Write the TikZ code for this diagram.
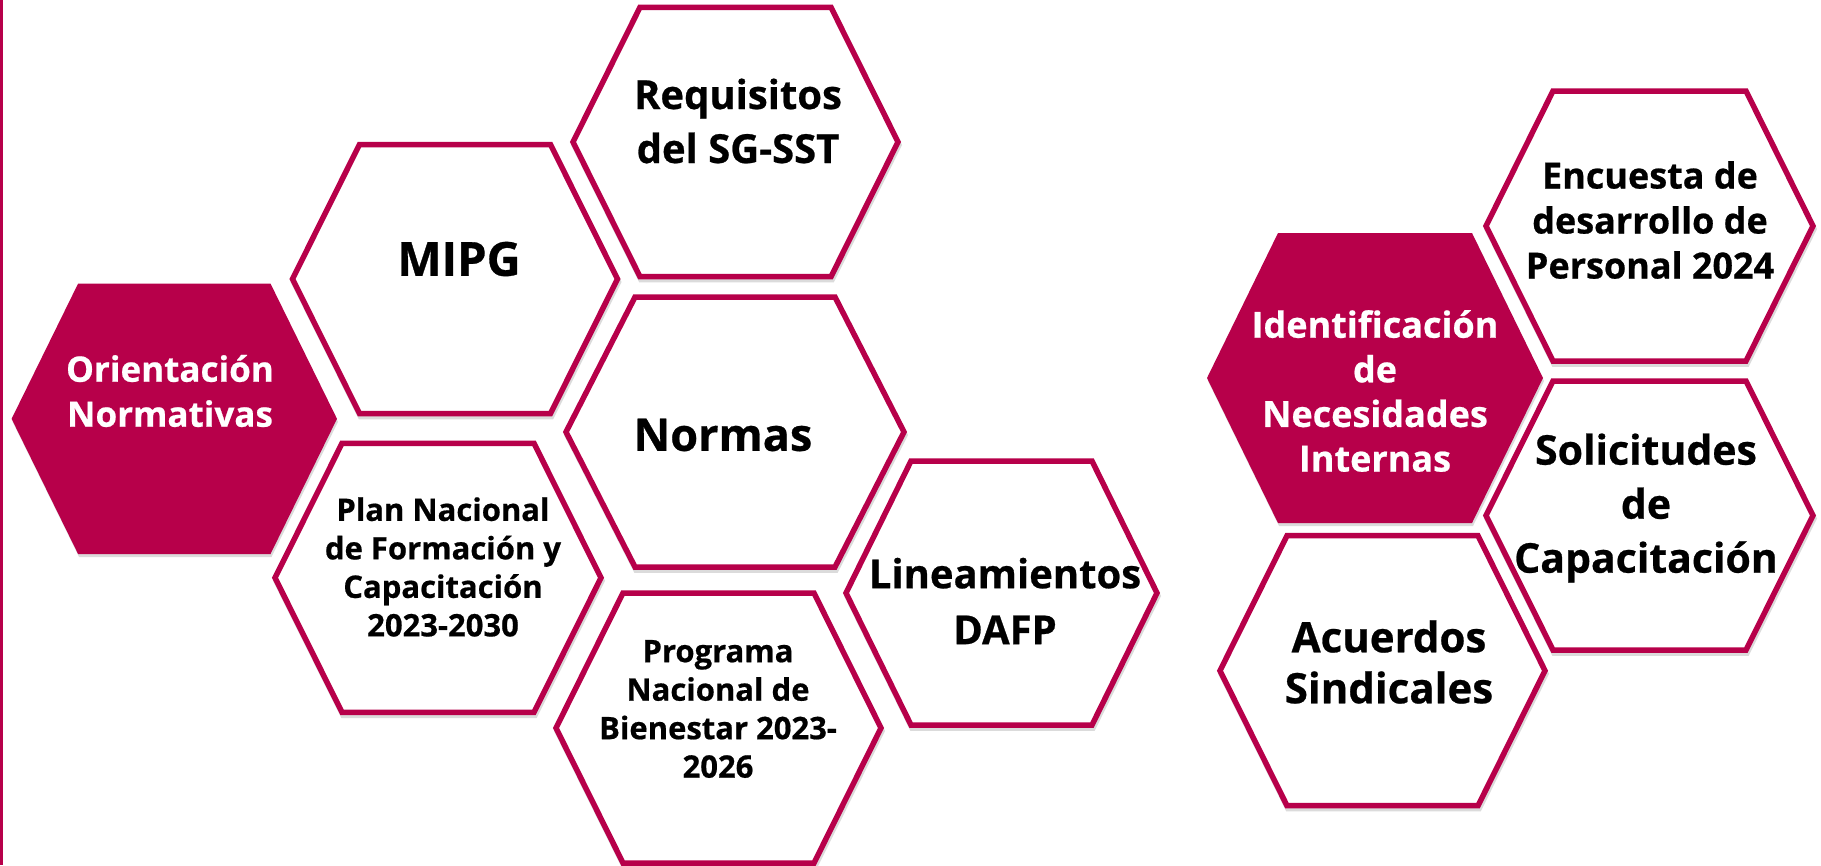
\documentclass[tikz,border=0pt]{standalone}
\usepackage{fontspec}
\setmainfont[BoldFeatures={FakeBold=0.6}]{Open Sans}
\definecolor{crim}{RGB}{183,0,74}
\newcommand\hexpath[5]{({#1-#3},{#2}) -- ({#1-#3+#5},{#2-#4}) -- ({#1+#3-#5},{#2-#4}) -- ({#1+#3},{#2}) -- ({#1+#3-#5},{#2+#4}) -- ({#1-#3+#5},{#2+#4}) -- cycle}
\begin{document}
\begin{tikzpicture}[x=1pt,y=-1pt,
  hexline/.style={draw=crim,line width=5.5pt,fill=white,line join=miter},
  hexfill/.style={fill=crim},
  hexshadow/.style={draw=black!40,line width=5.5pt,opacity=0.35,shift={(1,3)}},
  fillshadow/.style={fill=black!40,opacity=0.35,shift={(1,3)}},
  lbl/.style={align=center,inner sep=0pt,text=black},
  wlbl/.style={lbl,text=white}]
\useasboundingbox (0,0) rectangle (1821,865);
\fill[white] (0,0) rectangle (1821,865);
% left rule
\draw[crim,line width=2.7pt] (1.35,0) -- (1.35,865);
% shadows
\fill[fillshadow] \hexpath{174.3}{418.8}{162.7}{135.2}{66.5};
\draw[hexshadow] \hexpath{455}{279}{162.5}{134.5}{67};
\draw[hexshadow] \hexpath{735.5}{142}{162.5}{134.7}{67};
\draw[hexshadow] \hexpath{735}{432}{169}{135}{69};
\draw[hexshadow] \hexpath{438}{577.8}{163}{134.5}{67};
\draw[hexshadow] \hexpath{718.5}{728}{162.5}{135}{67};
\draw[hexshadow] \hexpath{1001.5}{593}{155.5}{132}{65};
\fill[fillshadow] \hexpath{1375}{378}{168}{145}{71};
\draw[hexshadow] \hexpath{1649.5}{226}{163.5}{135}{67};
\draw[hexshadow] \hexpath{1649.5}{515.5}{163.5}{134.5}{67};
\draw[hexshadow] \hexpath{1382.5}{670.7}{162.5}{135}{67};
% hexagons
\fill[hexfill] \hexpath{174.3}{418.8}{162.7}{135.2}{66.5};
\draw[hexline] \hexpath{455}{279}{162.5}{134.5}{67};
\draw[hexline] \hexpath{735.5}{142}{162.5}{134.7}{67};
\draw[hexline] \hexpath{735}{432}{169}{135}{69};
\draw[hexline] \hexpath{438}{577.8}{163}{134.5}{67};
\draw[hexline] \hexpath{718.5}{728}{162.5}{135}{67};
\draw[hexline] \hexpath{1001.5}{593}{155.5}{132}{65};
\fill[hexfill] \hexpath{1375}{378}{168}{145}{71};
\draw[hexline] \hexpath{1649.5}{226}{163.5}{135}{67};
\draw[hexline] \hexpath{1649.5}{515.5}{163.5}{134.5}{67};
\draw[hexline] \hexpath{1382.5}{670.7}{162.5}{135}{67};
% labels
\node[wlbl,font=\bfseries\fontsize{35}{45}\selectfont] (orient) at (170,391) {Orientación\\Normativas};
\node[lbl,font=\bfseries\fontsize{47}{56}\selectfont] (mipg) at (459,259) {MIPG};
\node[lbl,font=\bfseries\fontsize{40}{54}\selectfont] (req) at (738,121) {Requisitos\\del SG-SST};
\node[lbl,font=\bfseries\fontsize{45}{54}\selectfont] (normas) at (723,435) {Normas};
\node[lbl,font=\bfseries\fontsize{31}{38.5}\selectfont] (plan) at (443,567) {Plan Nacional\\de Formación y\\Capacitación\\2023-2030};
\node[lbl,font=\bfseries\fontsize{31}{38.5}\selectfont] (prog) at (718,709) {Programa\\Nacional de\\Bienestar 2023-\\2026};
\node[lbl,font=\bfseries\fontsize{40}{56}\selectfont] (linea) at (1005,601) {Lineamientos\\DAFP};
\node[wlbl,font=\bfseries\fontsize{36}{44.6}\selectfont] (ident) at (1375,391) {Identificación\\de\\Necesidades\\Internas};
\node[lbl,font=\bfseries\fontsize{36}{45}\selectfont] (enc) at (1650,220) {Encuesta de\\desarrollo de\\Personal 2024};
\node[lbl,font=\bfseries\fontsize{41}{54}\selectfont] (sol) at (1646,508) {Solicitudes\\de\\Capacitación};
\node[lbl,font=\bfseries\fontsize{42}{51}\selectfont] (acu) at (1389,662) {Acuerdos\\Sindicales};
\end{tikzpicture}
\end{document}
